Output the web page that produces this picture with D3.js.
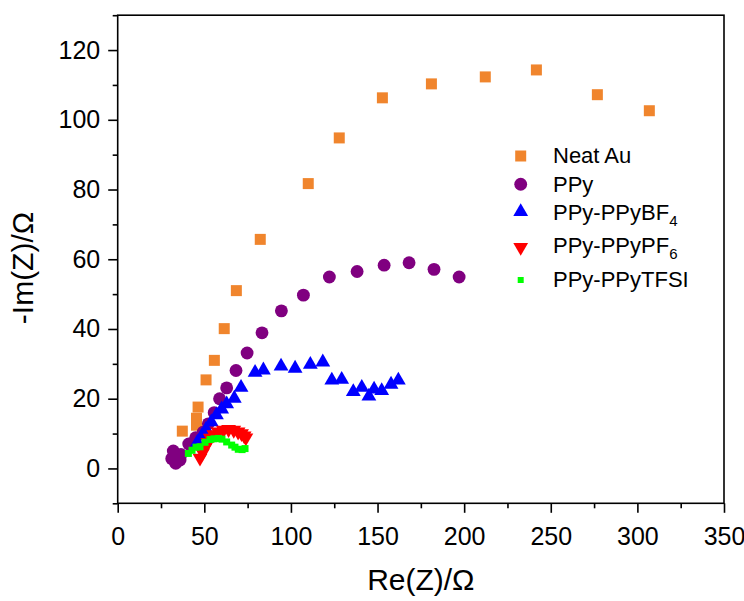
<!DOCTYPE html>
<html><head><meta charset="utf-8">
<script src="https://cdn.jsdelivr.net/npm/d3@7"></script>
<style>body{margin:0;background:#fff}svg{display:block}text{font-family:"Liberation Sans",Arial,sans-serif;fill:#000}</style>
</head><body><svg id="c" width="744" height="601"></svg>
<script>
const seriesNames = ["Neat Au", "PPy", "PPy-PPyBF", "PPy-PPyPF", "PPy-PPyTFSI"];
const seriesSubs = ["", "", "4", "6", ""];
const neatAu = [[37.3,10.7],[45.5,12.4],[45.5,14.4],[46.4,17.6],[51.0,25.4],[55.8,31.0],[61.5,40.1],[68.5,51.0],[82.3,65.7],[110.0,81.7],[127.9,94.8],[152.8,106.3],[181.1,110.3],[212.2,112.3],[241.7,114.3],[276.9,107.2],[306.9,102.6]];
const ppy = [[32.1,5.0],[31.2,2.8],[33.5,1.5],[36.0,2.4],[36.5,4.0],[41.0,7.0],[45.0,8.8],[49.3,10.4],[52.3,12.8],[55.7,16.0],[58.8,20.0],[62.9,23.1],[68.3,28.1],[74.7,33.1],[83.3,38.9],[94.5,45.2],[107.2,49.7],[122.2,54.9],[138.2,56.5],[153.8,58.3],[168.2,59.0],[182.6,57.1],[197.1,54.9]];
const ppyBF4 = [[46.0,7.5],[48.5,9.3],[51.0,11.2],[54.0,13.3],[57.0,15.3],[60.0,17.0],[62.9,18.5],[67.3,20.1],[71.2,23.2],[79.3,27.5],[84.1,28.2],[94.3,29.3],[102.4,28.7],[111.2,29.8],[118.4,30.5],[123.6,25.3],[129.3,25.5],[136.0,22.0],[140.9,23.2],[145.0,20.7],[148.0,22.7],[152.4,22.3],[157.8,24.1],[162.0,25.3]];
const ppyPF6 = [[47.5,3.0],[49.0,4.5],[50.5,6.0],[52.0,7.5],[53.5,8.7],[55.5,9.7],[58.0,10.5],[61.0,11.0],[64.0,11.2],[67.0,11.0],[69.5,10.5],[71.5,10.0],[73.0,9.4],[74.0,8.8]];
const ppyTFSI = [[40.8,4.3],[42.9,5.2],[45.2,6.1],[47.5,6.2],[50.4,7.5],[53.3,8.3],[55.6,8.5],[58.1,8.6],[60.2,8.4],[62.9,7.6],[65.8,6.7],[67.7,6.1],[69.6,5.5],[71.8,5.4],[73.5,5.7]];
const xTicks = [0,50,100,150,200,250,300,350];
const yTicks = [0,20,40,60,80,100,120];
const xMinor = [25,75,125,175,225,275,325];
const yMinor = [-10,10,30,50,70,90,110,130];

const svg = d3.select("#c");
const L = 117.7, R = 724, T = 15.2, B = 503.3;
const x = d3.scaleLinear().domain([0,350]).range([L,R]);
const y = d3.scaleLinear().domain([-10,130]).range([B,T]);

const styles = [
  {data: neatAu, color: "#F0852D", type: d3.symbolSquare, size: 121, rot: 0, lsize: 121},
  {data: ppy, color: "#800080", type: d3.symbolCircle, size: 130, rot: 0, lsize: 130},
  {data: ppyBF4, color: "#0000FF", type: d3.symbolTriangle, size: 95, rot: 0, lsize: 95},
  {data: ppyPF6, color: "#FF0000", type: d3.symbolTriangle, size: 95, rot: 180, lsize: 95},
  {data: ppyTFSI, color: "#00FF00", type: d3.symbolSquare, size: 49, rot: 0, lsize: 36}
];

const plot = svg.append("g");
styles.forEach(s => {
  plot.append("g").selectAll("path").data(s.data).join("path")
    .attr("d", d3.symbol().type(s.type).size(s.size))
    .attr("transform", d => `translate(${x(d[0])},${y(d[1])}) rotate(${s.rot})`)
    .attr("fill", s.color);
});

const sw = 1.6;
const tickFont = 25;
function styleAxis(g){ g.select(".domain").remove(); g.selectAll("line").attr("stroke","#000").attr("stroke-width",sw); }
svg.append("g").attr("transform",`translate(0,${B})`)
  .call(d3.axisBottom(x).tickValues(xMinor).tickSize(5).tickFormat(""))
  .call(styleAxis);
const gx = svg.append("g").attr("transform",`translate(0,${B})`)
  .call(d3.axisBottom(x).tickValues(xTicks).tickSize(9.5).tickPadding(14).tickFormat(d3.format("d")))
  .call(styleAxis);
gx.selectAll("text").attr("font-size",tickFont).attr("font-family","Liberation Sans, Arial, sans-serif").attr("fill","#000");
svg.append("g").attr("transform",`translate(${L},0)`)
  .call(d3.axisLeft(y).tickValues(yMinor).tickSize(5).tickFormat(""))
  .call(styleAxis);
const gy = svg.append("g").attr("transform",`translate(${L},0)`)
  .call(d3.axisLeft(y).tickValues(yTicks).tickSize(9.5).tickPadding(8).tickFormat(d3.format("d")))
  .call(styleAxis);
gy.selectAll("text").attr("font-size",tickFont).attr("font-family","Liberation Sans, Arial, sans-serif").attr("fill","#000");

svg.append("rect").attr("x",L).attr("y",T).attr("width",R-L).attr("height",B-T)
  .attr("fill","none").attr("stroke","#000").attr("stroke-width",sw);

svg.append("text").attr("x",(L+R)/2).attr("y",590).attr("text-anchor","middle")
  .attr("font-size",30).text("Re(Z)/Ω");
svg.append("text").attr("transform","translate(33,268) rotate(-90)").attr("text-anchor","middle")
  .attr("font-size",30).text("-Im(Z)/Ω");

const legY = [156,184.3,211.7,247.3,280];
const legBase = [163.3,191.7,220,252.7,286.7];
const leg = svg.append("g");
styles.forEach((s,i) => {
  leg.append("path").attr("d", d3.symbol().type(s.type).size(s.lsize))
    .attr("transform",`translate(520.7,${legY[i]}) rotate(${s.rot})`).attr("fill",s.color);
  const t = leg.append("text").attr("x",553).attr("y",legBase[i]).attr("font-size",22).text(seriesNames[i]);
  if (seriesSubs[i]) t.append("tspan").attr("font-size",15).attr("dy",6).text(seriesSubs[i]);
});
</script></body></html>
